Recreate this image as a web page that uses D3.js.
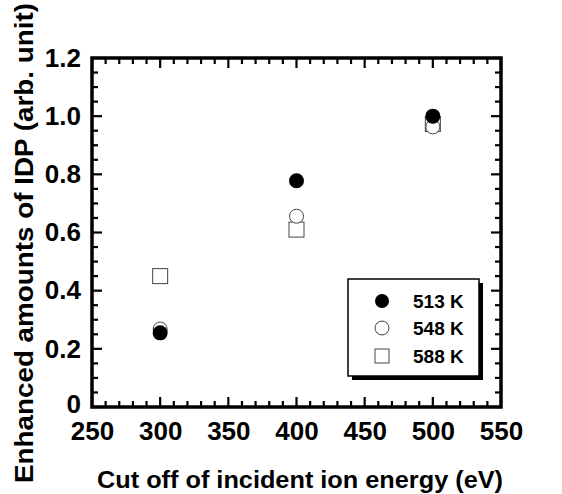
<!DOCTYPE html>
<html>
<head>
<meta charset="utf-8">
<script src="https://cdn.jsdelivr.net/npm/d3@7"></script>
<style>
  body { margin: 0; background: #fff; }
  text { font-family: "Liberation Sans", Arial, Helvetica, sans-serif; font-weight: bold; fill: #000; }
</style>
</head>
<body>
<div id="chart"></div>
<script>
// data
var energies = [300, 400, 500];
var series513 = [0.255, 0.778, 1.0];
var series548 = [0.268, 0.656, 0.963];
var series588 = [0.45, 0.61, 0.973];
var seriesNames = ["513 K", "548 K", "588 K"];
var xTicks = [250, 300, 350, 400, 450, 500, 550];
var yTicks = [0, 0.2, 0.4, 0.6, 0.8, 1.0, 1.2];

// plot area
var margin = {top: 58, bottom: 87, left: 92, right: 61},
  width = 562 - margin.left - margin.right,
  height = 494 - margin.top - margin.bottom;

var svg = d3.select("#chart")
  .append("svg")
  .attr("width", 562)
  .attr("height", 494);

var g = svg.append("g")
  .attr("transform", "translate(" + margin.left + "," + margin.top + ")");

var x = d3.scaleLinear().domain([250, 550]).range([0, width]);
var y = d3.scaleLinear().domain([0, 1.2]).range([height, 0]);

// minor ticks every 10 eV and every 0.05
var xMinor = d3.range(250, 551, 10);
var yMinor = d3.range(0, 1.2001, 0.05);

function isMajorX(v) { return v % 50 === 0; }
function isMajorY(v) { return Math.abs(v * 5 - Math.round(v * 5)) < 1e-6; }

var ticks = g.append("g").attr("stroke", "#000").attr("stroke-width", 2.2);

// bottom and top ticks, pointing inward
xMinor.forEach(function(v) {
  var len = isMajorX(v) ? 10 : 6;
  ticks.append("line").attr("x1", x(v)).attr("x2", x(v)).attr("y1", height).attr("y2", height - len);
  ticks.append("line").attr("x1", x(v)).attr("x2", x(v)).attr("y1", 0).attr("y2", len);
});

// left and right ticks
yMinor.forEach(function(v) {
  var len = isMajorY(v) ? 10 : 6;
  ticks.append("line").attr("y1", y(v)).attr("y2", y(v)).attr("x1", 0).attr("x2", len);
  ticks.append("line").attr("y1", y(v)).attr("y2", y(v)).attr("x1", width).attr("x2", width - len);
});

// frame
g.append("rect")
  .attr("width", width)
  .attr("height", height)
  .attr("fill", "none")
  .attr("stroke", "#000")
  .attr("stroke-width", 3.5);

// tick labels
var xAxis = d3.axisBottom(x).tickValues(xTicks).tickSize(0).tickPadding(15)
  .tickFormat(d3.format("d"));
var gx = g.append("g")
  .attr("transform", "translate(0," + height + ")")
  .call(xAxis);
gx.select(".domain").remove();
gx.selectAll("text").style("font-size", "26px").attr("font-family", null);

var yAxis = d3.axisLeft(y).tickValues(yTicks).tickSize(0).tickPadding(11)
  .tickFormat(function(d) { return d === 0 ? "0" : d3.format(".1f")(d); });
var gy = g.append("g").call(yAxis);
gy.select(".domain").remove();
gy.selectAll("text").style("font-size", "26px").attr("font-family", null);
gy.selectAll(".tick").filter(function(d) { return d === 0; })
  .select("text").attr("dy", "0.22em");

// axis titles
svg.append("text")
  .attr("x", 97)
  .attr("y", 488)
  .attr("textLength", 406)
  .attr("lengthAdjust", "spacingAndGlyphs")
  .style("font-size", "23px")
  .text("Cut off of incident ion energy (eV)");

svg.append("text")
  .attr("transform", "translate(33,483) rotate(-90)")
  .attr("textLength", 480)
  .attr("lengthAdjust", "spacingAndGlyphs")
  .style("font-size", "25px")
  .text("Enhanced amounts of IDP (arb. unit)");

// markers
function toPoints(vals) {
  return energies.map(function(e, i) { return {x: e, y: vals[i]}; });
}

var sq = 15;

g.selectAll(".s588")
  .data(toPoints(series588))
  .enter().append("rect")
  .attr("class", "s588")
  .attr("x", function(d) { return x(d.x) - sq / 2; })
  .attr("y", function(d) { return y(d.y) - sq / 2; })
  .attr("width", sq)
  .attr("height", sq)
  .attr("fill", "#fff")
  .attr("stroke", "#444")
  .attr("stroke-width", 1);

g.selectAll(".s548")
  .data(toPoints(series548))
  .enter().append("circle")
  .attr("class", "s548")
  .attr("cx", function(d) { return x(d.x); })
  .attr("cy", function(d) { return y(d.y); })
  .attr("r", 7)
  .attr("fill", "#fff")
  .attr("stroke", "#444")
  .attr("stroke-width", 1);

g.selectAll(".s513")
  .data(toPoints(series513))
  .enter().append("circle")
  .attr("class", "s513")
  .attr("cx", function(d) { return x(d.x); })
  .attr("cy", function(d) { return y(d.y); })
  .attr("r", 7.5)
  .attr("fill", "#000");

// legend box with drop shadow
var lg = svg.append("g").attr("transform", "translate(348,279)");
lg.append("rect")
  .attr("x", 4).attr("y", 4)
  .attr("width", 131).attr("height", 97)
  .attr("fill", "#000");
lg.append("rect")
  .attr("width", 131).attr("height", 97)
  .attr("fill", "#fff")
  .attr("stroke", "#000")
  .attr("stroke-width", 1.5);

var rowY = [22, 49, 77];
seriesNames.forEach(function(name, i) {
  var cy = rowY[i];
  if (i === 0) {
    lg.append("circle").attr("cx", 34).attr("cy", cy).attr("r", 7).attr("fill", "#000");
  } else if (i === 1) {
    lg.append("circle").attr("cx", 34).attr("cy", cy).attr("r", 7)
      .attr("fill", "#fff").attr("stroke", "#444").attr("stroke-width", 1);
  } else {
    lg.append("rect").attr("x", 27).attr("y", cy - 7).attr("width", 14).attr("height", 14)
      .attr("fill", "#fff").attr("stroke", "#444").attr("stroke-width", 1);
  }
  lg.append("text")
    .attr("x", 65)
    .attr("y", cy + 7)
    .style("font-size", "19px")
    .text(name);
});
</script>
</body>
</html>
